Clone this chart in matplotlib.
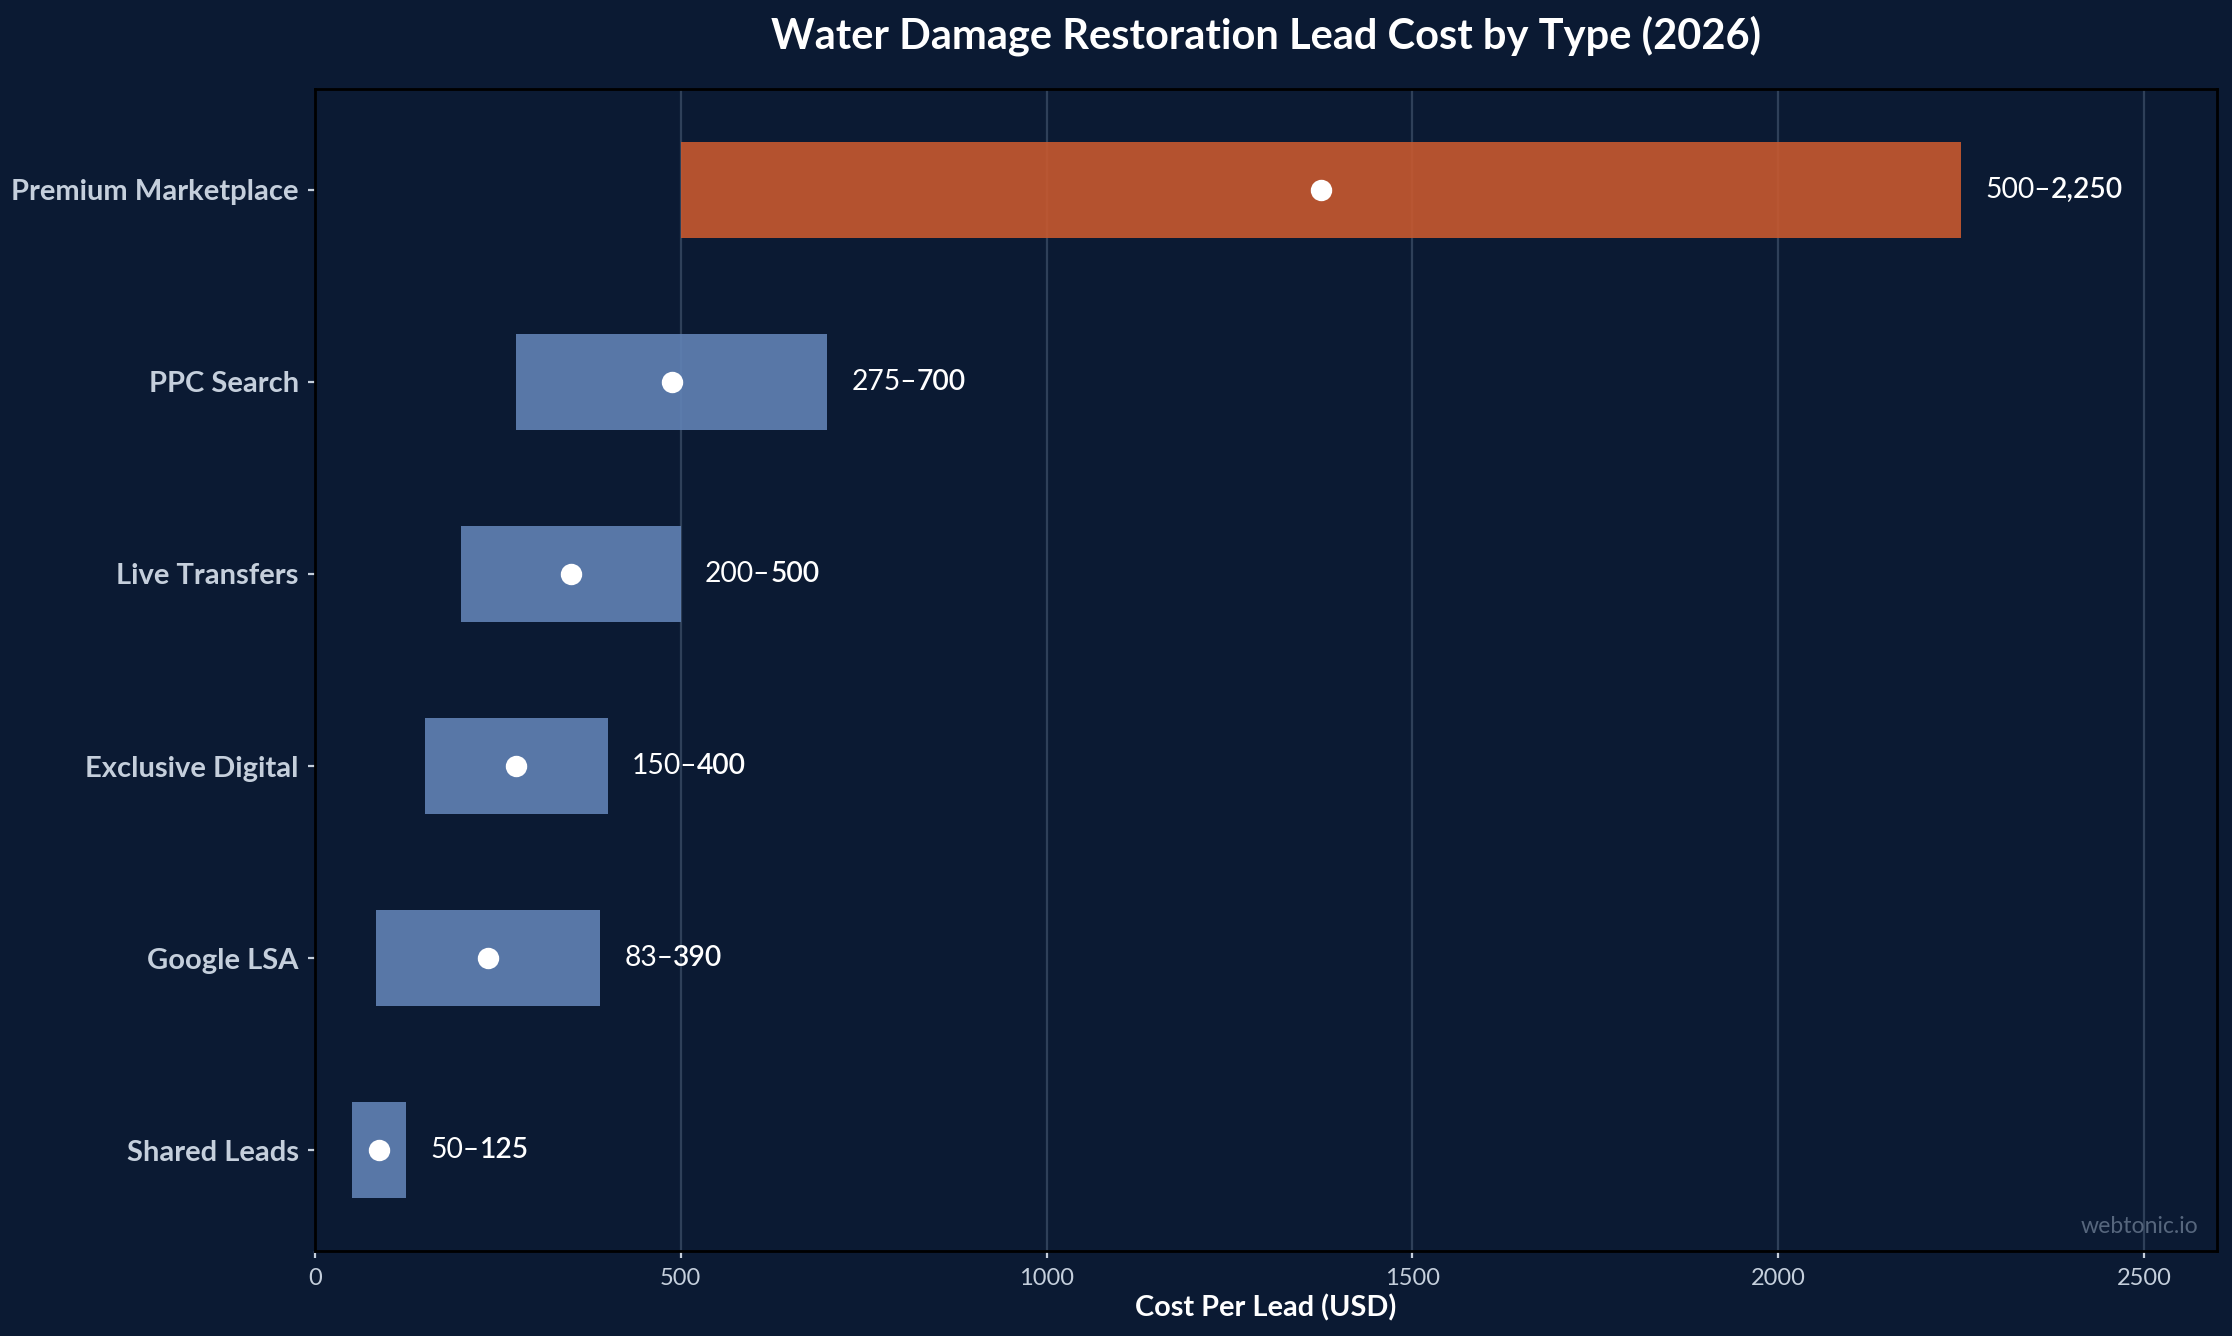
import matplotlib
matplotlib.use("Agg")
import matplotlib.pyplot as plt
import numpy as np

plt.rcParams['font.family'] = ['Lato', 'DejaVu Sans']

# datos (de abajo hacia arriba)
tipos = ['Shared Leads', 'Google LSA', 'Exclusive Digital', 'Live Transfers',
         'PPC Search', 'Premium Marketplace']
bajo = [50, 83, 150, 200, 275, 500]
alto = [125, 390, 400, 500, 700, 2250]
txt_bajo = ['50–', '83–', '150–', '200–', '275–', '500–']
txt_alto = ['125', '390', '400', '500', '700', '2,250']
destacado = 'Premium Marketplace'

fondo = '#0b1a33'
azul = '#6182b5'
naranja = '#c8592f'

fig, ax = plt.subplots(figsize=(11.16, 6.68), dpi=200)
fig.patch.set_facecolor(fondo)
ax.set_facecolor(fondo)
fig.subplots_adjust(left=0.1411, right=0.9933, top=0.9334, bottom=0.0636)

y = np.arange(len(tipos))
bajo = np.array(bajo)
alto = np.array(alto)
medio = (bajo + alto) / 2
colores = [naranja if t == destacado else azul for t in tipos]

ax.barh(y, alto - bajo, left=bajo, height=0.5, color=colores, alpha=0.9, zorder=2)
ax.scatter(medio, y, s=45, color='white', zorder=3)

# etiqueta de rango: primera parte normal, segunda algo mas gruesa
for yi, hi, t1, t2 in zip(y, alto, txt_bajo, txt_alto):
    a = ax.text(hi + 33, yi, t1, va='center', ha='left', fontsize=10.2,
                color='white', zorder=4)
    ax.annotate(t2, xy=(1, 0.5), xycoords=a, va='center', ha='left',
                fontsize=10.2, fontweight='semibold', color='white', zorder=4)

ax.set_xlim(0, 2600)
ax.set_yticks(y)
ax.set_yticklabels(tipos, fontsize=10.5, fontweight='bold', color='#c5cfdc')
ax.tick_params(axis='x', colors='#c5cfdc', labelsize=8.5, length=2.5, pad=3.5)
ax.tick_params(axis='y', colors='#c5cfdc', length=2.5, pad=3.3)
ax.grid(axis='x', color='#2f4059', linewidth=0.8, zorder=0)
ax.set_axisbelow(True)
for sp in ax.spines.values():
    sp.set_color('black')
    sp.set_linewidth(1.0)

ax.set_xlabel('Cost Per Lead (USD)', fontsize=10.4, fontweight='bold',
              color='white', labelpad=2)
ax.set_title('Water Damage Restoration Lead Cost by Type (2026)', fontsize=15,
             fontweight='bold', color='white', pad=14.5)
ax.text(0.99, 0.012, 'webtonic.io', transform=ax.transAxes, ha='right',
        va='bottom', fontsize=8.3, color='#56667d')

fig.savefig('out.png', dpi=200, facecolor=fondo)
